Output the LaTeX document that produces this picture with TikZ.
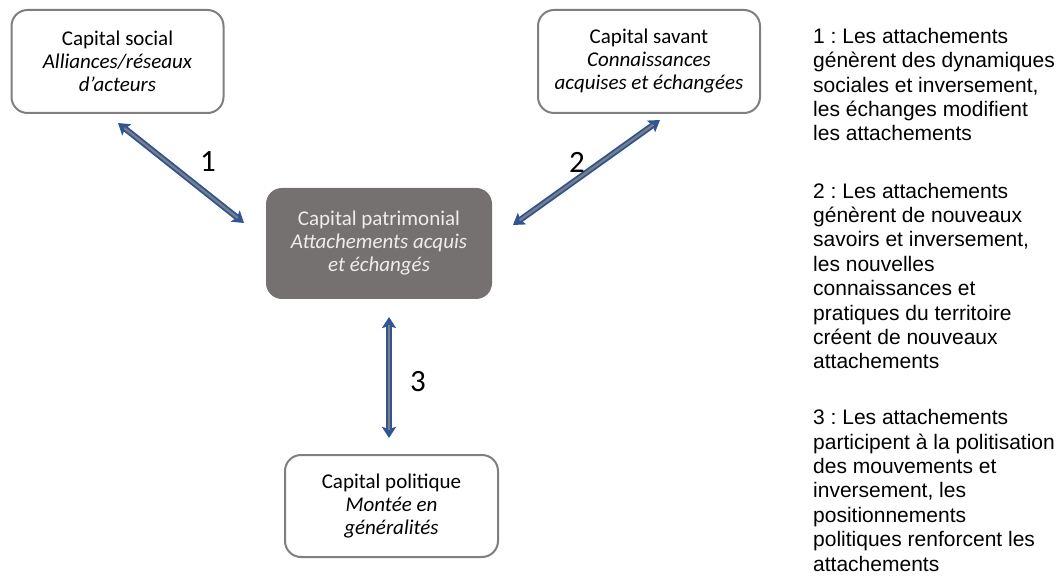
\documentclass[tikz,border=0pt]{standalone}
\usepackage{fontspec}
\setmainfont{Carlito}
\newfontfamily\arialf{Liberation Sans}
\usetikzlibrary{arrows.meta}
\frenchspacing
\definecolor{boxborder}{HTML}{7F7F7F}
\definecolor{darkbox}{HTML}{767171}
\definecolor{arrowblue}{HTML}{2F5597}
\definecolor{arrowgrey}{HTML}{7F7F7F}
\definecolor{lighttext}{HTML}{EDEDED}
\tikzset{
  capbox/.style={draw=boxborder, line width=2pt, rounded corners=16pt, fill=white,
    align=center, font=\fontsize{21}{23}\selectfont, inner sep=0pt},
  darkcap/.style={fill=darkbox, rounded corners=16pt, text=lighttext,
    align=center, font=\fontsize{21}{23}\selectfont, inner sep=0pt},
  numlabel/.style={font=\fontsize{31}{31}\selectfont, inner sep=0pt},
  explain/.style={font=\arialf\fontsize{21}{24.4}\selectfont, align=left, inner sep=0pt, anchor=base west},
  dbl/.style={draw=arrowblue, line width=6pt, {Stealth[length=11pt,width=14pt,inset=2pt]}-{Stealth[length=11pt,width=14pt,inset=2pt]}},
  dblcore/.style={draw=arrowgrey, line width=2.2pt, shorten <=8pt, shorten >=8pt}
}
\begin{document}
\begin{tikzpicture}[x=1pt,y=-1pt]
\useasboundingbox (0,0) rectangle (1061,577);

\node[capbox, minimum width=212pt, minimum height=103pt] (social) at (117.5,61.5)
  {Capital social\\ \textit{Alliances/réseaux}\\ \textit{d’acteurs}};
\node[capbox, minimum width=222pt, minimum height=103pt] (savant) at (649,61.5)
  {Capital savant\\ \textit{Connaissances}\\ \textit{acquises et échangées}};
\node[darkcap, minimum width=226pt, minimum height=111pt] (patri) at (379,243.5)
  {Capital patrimonial\\ \textit{Attachements acquis}\\ \textit{et échangés}};
\node[capbox, minimum width=213pt, minimum height=102pt] (polit) at (391.5,506)
  {Capital politique\\ \textit{Montée en}\\ \textit{généralités}};

\coordinate (a1s) at (118,123);
\coordinate (a1e) at (244,223);
\coordinate (a2s) at (513,225);
\coordinate (a2e) at (660,120);
\coordinate (a3s) at (389,317);
\coordinate (a3e) at (389,438);

\foreach \s/\e in {a1s/a1e, a2s/a2e, a3s/a3e}{
  \draw[dbl] (\s) -- (\e);
  \draw[dblcore] (\s) -- (\e);
}

\node[numlabel] (n1) at (208,162) {1};
\node[numlabel] (n2) at (577,162) {2};
\node[numlabel] (n3) at (418,382) {3};

\node[explain] (t1) at (813,141) {1 : Les attachements\\ génèrent des dynamiques\\ sociales et inversement,\\ les échanges modifient\\ les attachements};
\node[explain] (t2) at (813,369) {2 : Les attachements\\ génèrent de nouveaux\\ savoirs et inversement,\\ les nouvelles\\ connaissances et\\ pratiques du territoire\\ créent de nouveaux\\ attachements};
\node[explain] (t3) at (813,571) {3 : Les attachements\\ participent à la politisation\\ des mouvements et\\ inversement, les\\ positionnements\\ politiques renforcent les\\ attachements};
\end{tikzpicture}
\end{document}
